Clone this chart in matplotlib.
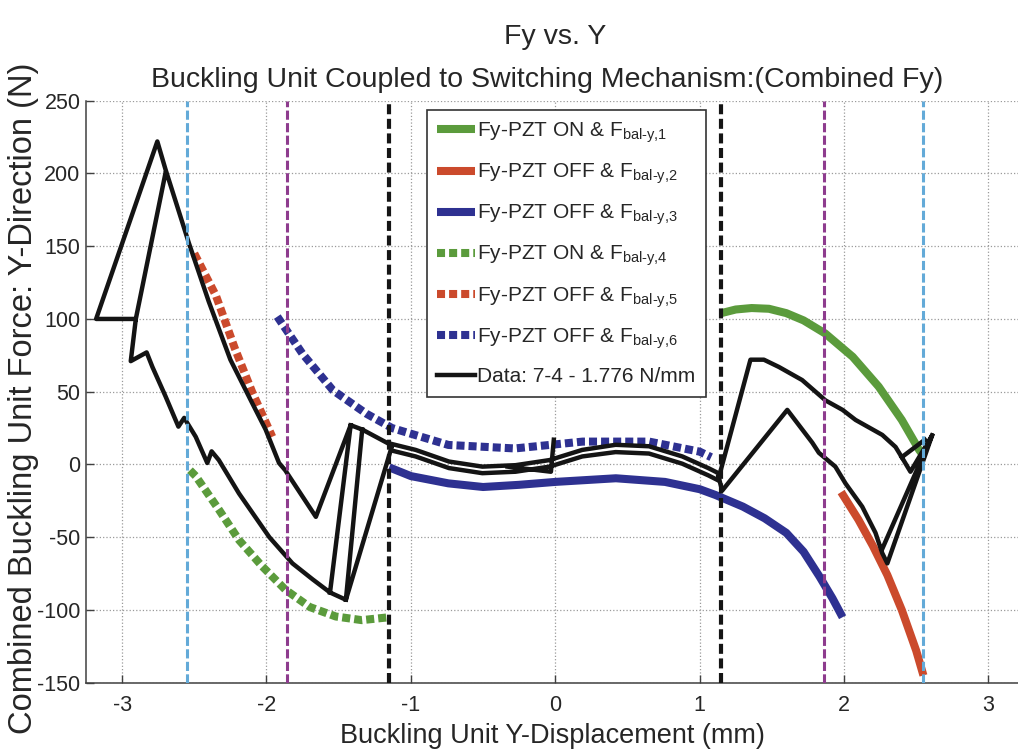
import numpy as np
import matplotlib
matplotlib.use('Agg')
import matplotlib.pyplot as plt

plt.rcParams['font.family'] = ['Liberation Sans', 'DejaVu Sans']
plt.rcParams['mathtext.fontset'] = 'custom'
plt.rcParams['mathtext.rm'] = 'Liberation Sans'
plt.rcParams['mathtext.default'] = 'regular'
plt.rcParams['axes.unicode_minus'] = False

# ---- model curves (Y displacement in mm, Fy in N) ----
green1_y = [1.15, 1.25, 1.36, 1.48, 1.60, 1.72, 1.87, 2.06, 2.24, 2.40, 2.52, 2.55]
green1_f = [104, 106.5, 107.5, 107, 104, 99, 90, 74, 53.5, 30.6, 10, 6]

red2_y = [1.98, 2.10, 2.20, 2.30, 2.40, 2.50, 2.55]
red2_f = [-19, -38, -56, -76, -100, -128, -145]

blue3_y = [-1.15, -1.0, -0.74, -0.5, -0.25, 0.0, 0.42, 0.76, 1.0, 1.11, 1.30, 1.45,
           1.60, 1.72, 1.83, 1.92, 1.99]
blue3_f = [-2, -8, -13, -15.5, -14, -12, -9.5, -12, -17, -21, -29, -37,
           -47, -60, -77, -92, -105]

green4_y = [-2.53, -2.49, -2.33, -2.19, -2.03, -1.87, -1.70, -1.52, -1.34, -1.15]
green4_f = [-4, -8, -31, -52, -70, -86, -98, -104.5, -107, -105]

red5_y = [-2.50, -2.35, -2.22, -2.10, -1.96]
red5_f = [145, 116, 80, 50, 19]

blue6_y = [-1.925, -1.75, -1.54, -1.31, -1.13, -0.74, -0.28, 0.19, 0.65, 1.0, 1.08]
blue6_f = [101.6, 76, 51, 35, 25, 13.4, 11, 15.7, 15.7, 8.8, 5]

# ---- measured data (traced), NaN separates strokes ----
nan = np.nan
left_y = [-1.13, -1.337, -1.417, -1.658, -1.87, -1.913, -2.006, -2.098, -2.25, -2.40, -2.537,
          -2.70, -2.756, -3.18, -2.905, -2.94, -2.83, -2.79, -2.70, -2.61, -2.57, -2.49, -2.41,
          -2.38, -2.33, -2.19, -1.98, -1.82, -1.68, -1.56, -1.45, -1.13,
          nan, -2.905, -2.70, nan, -1.417, -1.56, nan, -1.337, -1.45]
left_f = [13, 24, 27, -36, -4, 1, 24, 42, 72, 112, 152,
          203, 222, 100, 100, 71, 77, 67, 47, 26, 32, 19, 1,
          9, 3, -20, -50, -68, -79, -88, -93, 13,
          nan, 100, 200, nan, 27, -88, nan, 24, -93]

band_y = [-1.13, -0.967, -0.736, -0.505, -0.275, -0.04, 0.187, 0.418, 0.649, 0.88, 1.06, 1.13,
          nan, -1.13, -0.967, -0.736, -0.505, -0.275, -0.04, 0.187, 0.418, 0.649, 0.88, 1.06, 1.13,
          nan, -0.33, -0.03, -0.01]
band_f = [14, 10, 2, -1.5, -0.5, 3, 10, 13.5, 12.5, 5.5, -2.5, -6,
          nan, 9.5, 5.5, -2.5, -6, -5, -1.5, 5.5, 8.5, 7.5, 0.5, -7.5, -11,
          nan, -1.5, -5, 17]

right_y = [1.13, 1.156, 1.607, 1.78, 1.826, 1.94, 2.01, 2.126, 2.218, 2.265, 2.30, 2.61,
           2.46, 2.40, 2.357, 2.265, 2.08, 1.99, 1.872, 1.71, 1.549, 1.445, 1.352, 1.13,
           nan, 2.265, 2.61, nan, 2.40, 2.56]
right_f = [-8, -18, 37.5, 15, 8, -1.5, -13, -29, -47, -61, -68, 20,
           -5, 5, 12, 20.3, 30.6, 37.5, 44, 58, 67, 72, 72, -10,
           nan, -58, 20, nan, 5, 17]

# ---- switching boundaries ----
vline_y = [-2.55, -1.86, -1.15, 1.15, 1.86, 2.55]
vline_c = ['#63aad8', '#8e3c8e', '#151515', '#151515', '#8e3c8e', '#63aad8']

labels = [r'Fy-PZT ON & F$_{bal‐y{,}1}$', r'Fy-PZT OFF & F$_{bal‐y{,}2}$',
          r'Fy-PZT OFF & F$_{bal‐y{,}3}$', r'Fy-PZT ON & F$_{bal‐y{,}4}$',
          r'Fy-PZT OFF & F$_{bal‐y{,}5}$', r'Fy-PZT OFF & F$_{bal‐y{,}6}$',
          'Data: 7-4 - 1.776 N/mm']

GREEN, RED, BLUE = '#5b9b3c', '#cb4a2c', '#2e3191'
TXT = '#262626'

fig = plt.figure(figsize=(10.18, 7.51), dpi=100)
ax = fig.add_axes([86 / 1018, 1 - 682.7 / 751, (1024.5 - 86) / 1018, 582 / 751])

lw_c = 5.8
dot = (0, (1, 0.5))
h1, = ax.plot(green1_y, green1_f, color=GREEN, lw=lw_c, solid_capstyle='butt', zorder=2)
h2, = ax.plot(red2_y, red2_f, color=RED, lw=lw_c, solid_capstyle='butt', zorder=2)
h3, = ax.plot(blue3_y, blue3_f, color=BLUE, lw=lw_c, solid_capstyle='butt', zorder=2)
h4, = ax.plot(green4_y, green4_f, color=GREEN, lw=lw_c, ls=dot, dash_capstyle='butt', zorder=2)
h5, = ax.plot(red5_y, red5_f, color=RED, lw=lw_c, ls=dot, dash_capstyle='butt', zorder=2)
h6, = ax.plot(blue6_y, blue6_f, color=BLUE, lw=lw_c, ls=dot, dash_capstyle='butt', zorder=2)

h7, = ax.plot(left_y, left_f, color='#141414', lw=3.2, zorder=4)
ax.plot(band_y, band_f, color='#141414', lw=3.2, zorder=4)
ax.plot(right_y, right_f, color='#141414', lw=3.2, zorder=4)

for xv, c in zip(vline_y, vline_c):
    if c == '#151515':
        ax.axvline(xv, color=c, lw=3.0, ls=(0, (2.4, 1.1)), zorder=5)
    else:
        ax.axvline(xv, color=c, lw=2.2, ls=(0, (3.0, 1.1)), zorder=5)

ax.set_xlim(-3.25, 3.25)
ax.set_ylim(-150, 250)
ax.set_xticks(range(-3, 4))
ax.set_yticks(range(-150, 251, 50))
ax.grid(True, linestyle=':', color='#9a9a9a', lw=0.9)
ax.spines['top'].set_visible(False)
ax.spines['right'].set_visible(False)
for s in ('left', 'bottom'):
    ax.spines[s].set_color('#404040')
    ax.spines[s].set_linewidth(1.1)
ax.tick_params(direction='in', length=6, width=1, colors='#404040', labelcolor=TXT, labelsize=15.5)
ax.tick_params(axis='x', pad=9)
ax.tick_params(axis='y', pad=4)

leg = ax.legend([h1, h2, h3, h4, h5, h6, h7], labels, loc='upper left',
                bbox_to_anchor=(0.3634, 0.984), borderaxespad=0, fontsize=15,
                handlelength=1.8, handletextpad=0.12, labelspacing=0.8,
                borderpad=0.5, fancybox=False, framealpha=1, edgecolor='#333333')
leg.get_frame().set_linewidth(1.2)
for t in leg.get_texts():
    t.set_color(TXT)

fig.text(555 / 1018, 1 - 44 / 751, 'Fy vs. Y', ha='center', va='baseline', fontsize=20.5, color=TXT)
fig.text(547 / 1018, 1 - 87 / 751, 'Buckling Unit Coupled to Switching Mechanism:(Combined Fy)',
         ha='center', va='baseline', fontsize=20.5, color=TXT)
fig.text(552 / 1018, 1 - 743 / 751, 'Buckling Unit Y-Displacement (mm)', ha='center',
         va='baseline', fontsize=19.5, color=TXT)
fig.text(32 / 1018, 1 - 398 / 751, 'Combined Buckling Unit Force: Y-Direction (N)',
         ha='center', va='baseline', rotation=90, rotation_mode='anchor',
         fontsize=23.5, color=TXT)

fig.savefig('out.png', dpi=100)
